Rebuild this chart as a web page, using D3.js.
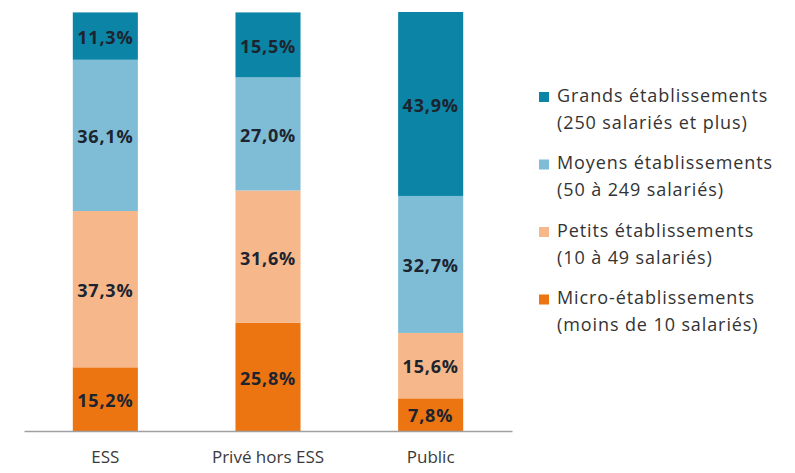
<!DOCTYPE html>
<html>
<head>
<meta charset="utf-8">
<script src="https://cdn.jsdelivr.net/npm/d3@7"></script>
<style>
  body { margin: 0; background: #fff; }
  svg { display: block; font-family: "Open Sans", "Noto Sans", sans-serif; }
</style>
</head>
<body>
<svg id="chart" width="795" height="473"></svg>
<script>
// categories and series (bottom to top)
const categories = ["ESS", "Privé hors ESS", "Public"];
const seriesKeys = ["micro", "petits", "moyens", "grands"];
const micro  = [15.2, 25.8, 7.8];
const petits = [37.3, 31.6, 15.6];
const moyens = [36.1, 27.0, 32.7];
const grands = [11.3, 15.5, 43.9];
const legendLines = [
  ["Grands établissements", "(250 salariés et plus)"],
  ["Moyens établissements", "(50 à 249 salariés)"],
  ["Petits établissements", "(10 à 49 salariés)"],
  ["Micro-établissements", "(moins de 10 salariés)"]
];
const legendKeys = ["grands", "moyens", "petits", "micro"];
const colors = {grands: "#0b84a5", moyens: "#7fbcd6", petits: "#f6b88a", micro: "#ec7512"};

const rows = categories.map((c, i) => ({
  cat: c, micro: micro[i], petits: petits[i], moyens: moyens[i], grands: grands[i]
}));

const svg = d3.select("#chart");
const margin = {top: 12, left: 24, bottom: 42};
const plotRight = 512;
const height = 473 - margin.top - margin.bottom;

const x = d3.scaleBand()
  .domain(categories)
  .range([margin.left, plotRight])
  .paddingInner(0.6)
  .paddingOuter(0.3);

const y = d3.scaleLinear()
  .domain([0, 100])
  .range([margin.top + height, margin.top]);

const stack = d3.stack().keys(seriesKeys);
const layers = stack(rows);

const g = svg.append("g");

layers.forEach(layer => {
  g.selectAll(null)
    .data(layer)
    .join("rect")
      .attr("x", d => x(d.data.cat))
      .attr("width", x.bandwidth())
      .attr("y", d => y(d[1]))
      .attr("height", d => y(d[0]) - y(d[1]))
      .attr("fill", colors[layer.key]);

  g.selectAll(null)
    .data(layer)
    .join("text")
      .attr("x", d => x(d.data.cat) + x.bandwidth() / 2)
      .attr("y", d => (y(d[0]) + y(d[1])) / 2 + 3)
      .attr("text-anchor", "middle")
      .attr("dominant-baseline", "middle")
      .attr("font-size", "18px")
      .attr("font-weight", "bold")
      .attr("letter-spacing", "0.8px")
      .attr("fill", "#1c2430")
      .text(d => d3.format(".1f")(d[1] - d[0]).replace(".", ",") + "%");
});

// x axis
const xAxis = d3.axisBottom(x).tickSize(0).tickPadding(20);
const axisG = svg.append("g")
  .attr("transform", `translate(0,${margin.top + height})`)
  .call(xAxis);
axisG.select(".domain").attr("stroke", "#a0a0a0").attr("stroke-width", 1.5);
axisG.selectAll("text")
  .attr("font-size", "17px")
  .attr("fill", "#3a3a3a")
  .style("font-family", "'Open Sans', sans-serif");

// legend
const legend = svg.append("g").attr("transform", "translate(539,0)");
legendKeys.forEach((k, i) => {
  const ly = 97 + i * 67.5;
  legend.append("rect")
    .attr("x", 0).attr("y", ly - 5)
    .attr("width", 10).attr("height", 10)
    .attr("fill", colors[k]);
  legend.append("text")
    .attr("x", 18).attr("y", ly)
    .attr("dominant-baseline", "middle")
    .attr("font-size", "18px")
    .attr("letter-spacing", "0.9px")
    .attr("fill", "#333")
    .text(legendLines[i][0]);
  legend.append("text")
    .attr("x", 18).attr("y", ly + 27)
    .attr("dominant-baseline", "middle")
    .attr("font-size", "18px")
    .attr("letter-spacing", "0.9px")
    .attr("fill", "#333")
    .text(legendLines[i][1]);
});
</script>
</body>
</html>
